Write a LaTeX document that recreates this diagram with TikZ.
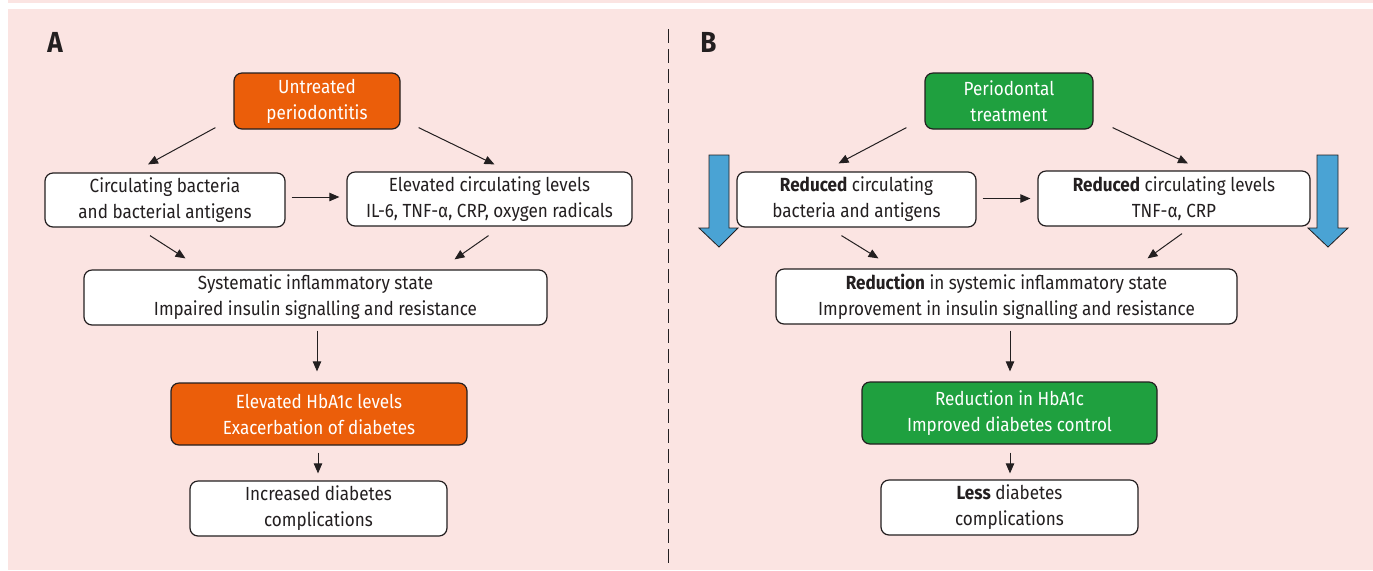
\documentclass[tikz,border=0pt]{standalone}
\usepackage{fontspec}
\setmainfont{Fira Sans}[FakeStretch=0.9]
\usetikzlibrary{arrows.meta,calc}
\definecolor{bgpink}{HTML}{FBE4E2}
\definecolor{orng}{HTML}{EB5E0A}
\definecolor{grn}{HTML}{1FA03F}
\definecolor{blu}{HTML}{4AA3D4}
\definecolor{ink}{HTML}{231F20}
\tikzset{
  box/.style={draw=ink,line width=0.6pt,rounded corners=4pt,fill=white,align=center,
    inner sep=0pt,font=\fontsize{9.5}{13}\selectfont,text=ink},
  obox/.style={box,fill=orng,text=white},
  gbox/.style={box,fill=grn,text=white},
  conn/.style={draw=ink,line width=0.5pt,-{Triangle[length=5pt,width=4.2pt]}},
  bigarrow/.style={draw=ink,line width=0.4pt,fill=blu},
  panel/.style={font=\fontsize{14.5}{14.5}\selectfont\bfseries,text=ink}
}
\begin{document}
\begin{tikzpicture}[x=0.5pt,y=-0.5pt]
\useasboundingbox (0,0) rectangle (1373,570);
\fill[white] (0,0) rectangle (1373,570);
\fill[bgpink] (8,0) rectangle (1373,3);
\fill[bgpink] (8,9) rectangle (1373,570);
\draw[ink,line width=0.5pt,dash pattern=on 7pt off 3pt] (668,29) -- (668,566);

% Panel A
\node[panel] (la) at (55,42) {A};
\node[obox,minimum width=83pt,minimum height=28pt] (u) at (317,101) {Untreated\\periodontitis};
\node[box,minimum width=120pt,minimum height=27pt] (cb) at (165,200) {Circulating bacteria\\and bacterial antigens};
\node[box,minimum width=142.5pt,minimum height=27pt] (el) at (489.5,199) {Elevated circulating levels\\IL-6, TNF-α, CRP, oxygen radicals};
\node[box,minimum width=231.5pt,minimum height=27.5pt] (si) at (315.5,297.5) {Systematic inflammatory state\\Impaired insulin signalling and resistance};
\node[obox,minimum width=148pt,minimum height=31pt] (hb) at (319,414) {Elevated HbA1c levels\\Exacerbation of diabetes};
\node[box,minimum width=128.5pt,minimum height=27.5pt] (ic) at (318.5,508.5) {Increased diabetes\\complications};

\draw[conn] ($(u.south west)+(-18,-2)$) -- ($(cb.north)+(-17,-8)$);
\draw[conn] ($(u.south east)+(18,-2)$) -- ($(el.north)+(5,-7)$);
\draw[conn] ($(cb.east)+(6,-3)$) -- ($(el.west)+(-7,-2)$);
\draw[conn] ($(cb.south)+(-15,8)$) -- ($(si.north)+(-130,-11)$);
\draw[conn] ($(el.south)+(-1,9)$) -- ($(si.north)+(139,-10)$);
\draw[conn] ($(si.south)+(1.5,5)$) -- ($(hb.north)+(-2,-11)$);
\draw[conn] ($(hb.south)+(-1,7)$) -- ($(ic.north)+(-0.5,-7)$);

% Panel B
\node[panel] (lb) at (708.5,42) {B};
\node[gbox,minimum width=84pt,minimum height=28pt] (pt) at (1009,101) {Periodontal\\treatment};
\node[box,minimum width=119.5pt,minimum height=27.5pt] (rb) at (856.5,199.5) {\textbf{Reduced} circulating\\bacteria and antigens};
\node[box,minimum width=136pt,minimum height=27.5pt] (rl) at (1174,198.5) {\textbf{Reduced} circulating levels\\TNF-α, CRP};
\node[box,minimum width=230.5pt,minimum height=27.5pt] (rs) at (1006.5,296.5) {\textbf{Reduction} in systemic inflammatory state\\Improvement in insulin signalling and resistance};
\node[gbox,minimum width=147.5pt,minimum height=31pt] (rh) at (1009.5,413) {Reduction in HbA1c\\Improved diabetes control};
\node[box,minimum width=128.5pt,minimum height=27.5pt] (ld) at (1009.5,507.5) {\textbf{Less} diabetes\\complications};

\draw[conn] ($(pt.south west)+(-18,-2)$) -- ($(rb.north)+(-18,-8)$);
\draw[conn] ($(pt.south east)+(19,-2)$) -- ($(rl.north)+(14,-7)$);
\draw[conn] ($(rb.east)+(6,-1)$) -- ($(rl.west)+(-7,0)$);
\draw[conn] ($(rb.south)+(-15,8)$) -- ($(rs.north)+(-128,-10)$);
\draw[conn] ($(rl.south)+(8,7)$) -- ($(rs.north)+(141,-10)$);
\draw[conn] ($(rs.south)+(3.5,6)$) -- ($(rh.north)+(0.5,-10)$);
\draw[conn] ($(rh.south)+(0.5,8)$) -- ($(ld.north)+(0.5,-6)$);

% big blue arrows
\draw[bigarrow] (709,155) -- (729,155) -- (729,228) -- (738,228) -- (719,247) -- (699,228) -- (709,228) -- cycle;
\draw[bigarrow] (1317,155) -- (1338,155) -- (1338,228) -- (1348,228) -- (1328,247) -- (1308,228) -- (1317,228) -- cycle;
\end{tikzpicture}
\end{document}
